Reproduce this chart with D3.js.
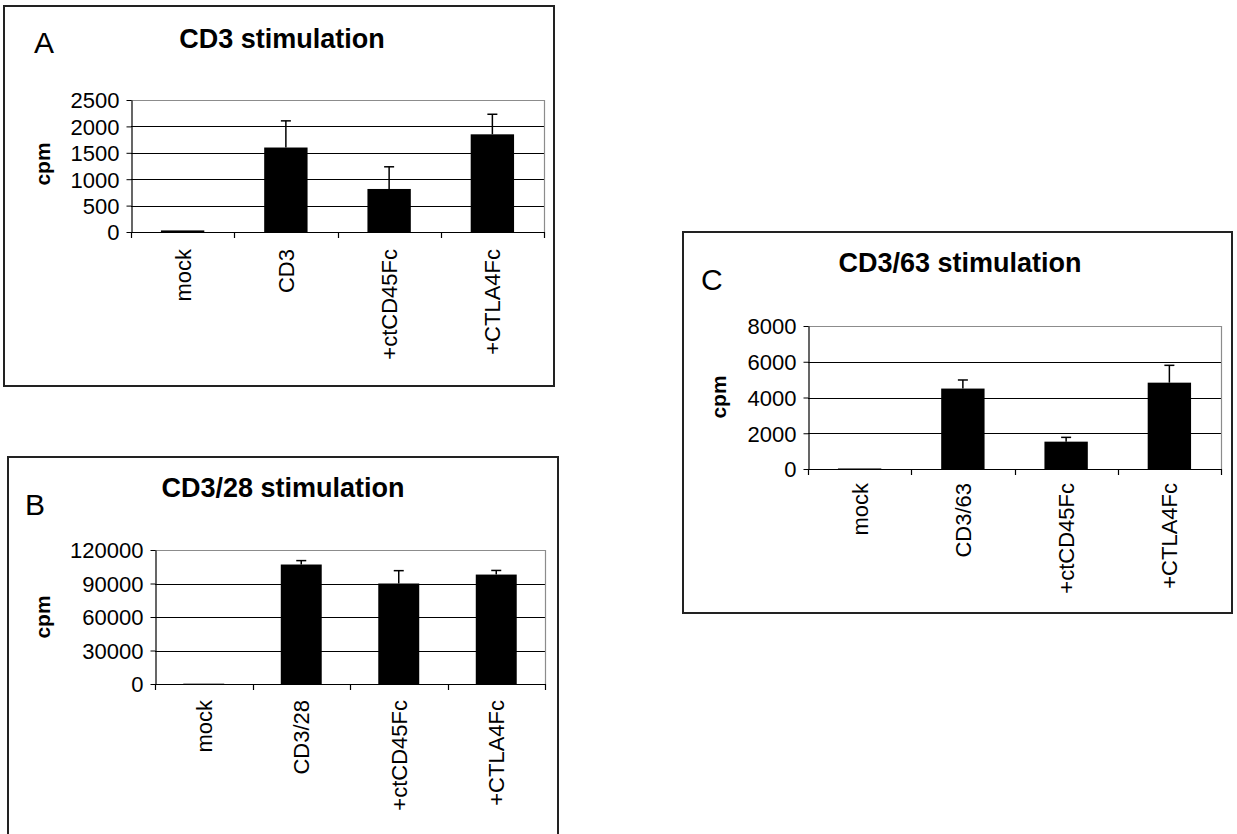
<!doctype html>
<html>
<head>
<meta charset="utf-8">
<title>CD3 stimulation panels</title>
<script src="https://d3js.org/d3.v7.min.js"></script>
<style>
  body { margin:0; background:#fff; }
  svg { display:block; font-family:"Liberation Sans", Arial, sans-serif; }
  .title { font-weight:bold; font-size:27px; }
  .letter { font-size:30px; }
  .ylab { font-weight:bold; font-size:21px; }
  .tick text { font-size:22px; fill:#000; }
  .cat { font-size:22px; }
</style>
</head>
<body>
<script>
// data
var categoriesA = ["mock", "CD3", "+ctCD45Fc", "+CTLA4Fc"];
var valuesA = [30, 1600, 815, 1850];
var errorsA = [0, 505, 420, 380];
var ticksA = [0, 500, 1000, 1500, 2000, 2500];

var categoriesB = ["mock", "CD3/28", "+ctCD45Fc", "+CTLA4Fc"];
var valuesB = [300, 107000, 90000, 98000];
var errorsB = [0, 3500, 11500, 3700];
var ticksB = [0, 30000, 60000, 90000, 120000];

var categoriesC = ["mock", "CD3/63", "+ctCD45Fc", "+CTLA4Fc"];
var valuesC = [30, 4500, 1530, 4830];
var errorsC = [0, 480, 240, 970];
var ticksC = [0, 2000, 4000, 6000, 8000];

var width = 1237, height = 834;

var svg = d3.select("body").append("svg")
    .attr("width", width)
    .attr("height", height);

svg.append("rect").attr("width", width).attr("height", height).attr("fill", "#fff");

// layout: box [x,y,w,h], plot [left,top,right,bottom]
var panels = [
  {letter:"A", title:"CD3 stimulation", cats:categoriesA, vals:valuesA, errs:errorsA, ticks:ticksA,
   box:[4, 6, 550, 380], plot:[131, 100, 544, 232], titleX:282, titleY:48, letterX:34, letterY:53,
   ylabX:50, ylabY:164, catY:249},
  {letter:"B", title:"CD3/28 stimulation", cats:categoriesB, vals:valuesB, errs:errorsB, ticks:ticksB,
   box:[8, 457, 550, 400], plot:[155, 550, 545, 684], titleX:283, titleY:497, letterX:25, letterY:515,
   ylabX:50, ylabY:617, catY:700},
  {letter:"C", title:"CD3/63 stimulation", cats:categoriesC, vals:valuesC, errs:errorsC, ticks:ticksC,
   box:[683, 232, 549, 381], plot:[808, 326, 1221, 469], titleX:960, titleY:272, letterX:701, letterY:290,
   ylabX:726, ylabY:397, catY:483}
];

panels.forEach(function(p) {
  var g = svg.append("g");
  var L = p.plot[0], T = p.plot[1], R = p.plot[2], B = p.plot[3];

  // outer frame
  g.append("rect")
    .attr("x", p.box[0]).attr("y", p.box[1])
    .attr("width", p.box[2]).attr("height", p.box[3])
    .attr("fill", "none").attr("stroke", "#222").attr("stroke-width", 2);

  var x = d3.scaleBand().domain(p.cats).range([L, R])
    .paddingInner(0.58).paddingOuter(0.29);
  var y = d3.scaleLinear().domain([0, d3.max(p.ticks)]).range([B, T]);

  // gridlines
  g.selectAll(".grid").data(p.ticks.slice(1, -1)).enter()
    .append("line")
    .attr("x1", L).attr("x2", R)
    .attr("y1", function(d) { return Math.round(y(d)) + 0.5; })
    .attr("y2", function(d) { return Math.round(y(d)) + 0.5; })
    .attr("stroke", "#000").attr("stroke-width", 1);

  // plot area border top/right (grey)
  g.append("path")
    .attr("d", "M" + L + "," + (Math.round(T) + 0.5) + "H" + (R + 0.5) + "V" + B)
    .attr("fill", "none").attr("stroke", "#8c8c8c").attr("stroke-width", 1.2);

  // bars
  g.selectAll(".bar").data(p.vals).enter()
    .append("rect")
    .attr("x", function(d, i) { return x(p.cats[i]); })
    .attr("y", function(d) { return y(d); })
    .attr("width", x.bandwidth())
    .attr("height", function(d) { return B - y(d); })
    .attr("fill", "#000");

  // error bars (upper only)
  var eb = g.selectAll(".err").data(p.vals.map(function(v, i) { return {c:p.cats[i], v:v, e:p.errs[i]}; })
      .filter(function(d) { return d.e > 0; }))
    .enter().append("g");
  eb.append("line")
    .attr("x1", function(d) { return x(d.c) + x.bandwidth() / 2; })
    .attr("x2", function(d) { return x(d.c) + x.bandwidth() / 2; })
    .attr("y1", function(d) { return y(d.v); })
    .attr("y2", function(d) { return y(d.v + d.e); })
    .attr("stroke", "#000").attr("stroke-width", 1.5);
  eb.append("line")
    .attr("x1", function(d) { return x(d.c) + x.bandwidth() / 2 - 5; })
    .attr("x2", function(d) { return x(d.c) + x.bandwidth() / 2 + 5; })
    .attr("y1", function(d) { return y(d.v + d.e); })
    .attr("y2", function(d) { return y(d.v + d.e); })
    .attr("stroke", "#000").attr("stroke-width", 1.5);

  // y axis
  var yAxis = g.append("g")
    .attr("transform", "translate(" + (L + 0.5) + ",0)")
    .call(d3.axisLeft(y).tickValues(p.ticks).tickSize(5).tickPadding(7).tickSizeOuter(0)
      .tickFormat(d3.format("d")));
  yAxis.select(".domain").attr("stroke", "#000").attr("stroke-width", 1.2);
  yAxis.selectAll(".tick line").attr("stroke", "#000");
  yAxis.selectAll(".tick text").attr("dy", "0.36em");

  // x axis line and category boundary ticks
  g.append("line")
    .attr("x1", L).attr("x2", R + 0.5)
    .attr("y1", B + 0.5).attr("y2", B + 0.5)
    .attr("stroke", "#000").attr("stroke-width", 1.2);
  g.selectAll(".xt").data(d3.range(p.cats.length + 1)).enter()
    .append("line")
    .attr("x1", function(i) { return Math.round(L + i * x.step()) + 0.5; })
    .attr("x2", function(i) { return Math.round(L + i * x.step()) + 0.5; })
    .attr("y1", B).attr("y2", B + 6)
    .attr("stroke", "#000").attr("stroke-width", 1.2);

  // category labels, rotated
  g.selectAll(".cat").data(p.cats).enter()
    .append("text")
    .attr("class", "cat")
    .attr("transform", function(d) {
      return "translate(" + (x(d) + x.bandwidth() / 2) + "," + p.catY + ") rotate(-90)";
    })
    .attr("text-anchor", "end")
    .attr("dy", "0.36em")
    .text(function(d) { return d; });

  // y label (x is the baseline position)
  g.append("text")
    .attr("class", "ylab")
    .attr("transform", "translate(" + p.ylabX + "," + p.ylabY + ") rotate(-90)")
    .attr("text-anchor", "middle")
    .text("cpm");

  // title and panel letter
  g.append("text").attr("class", "title")
    .attr("x", p.titleX).attr("y", p.titleY)
    .attr("text-anchor", "middle")
    .text(p.title);
  g.append("text").attr("class", "letter")
    .attr("x", p.letterX).attr("y", p.letterY)
    .text(p.letter);
});
</script>
</body>
</html>
